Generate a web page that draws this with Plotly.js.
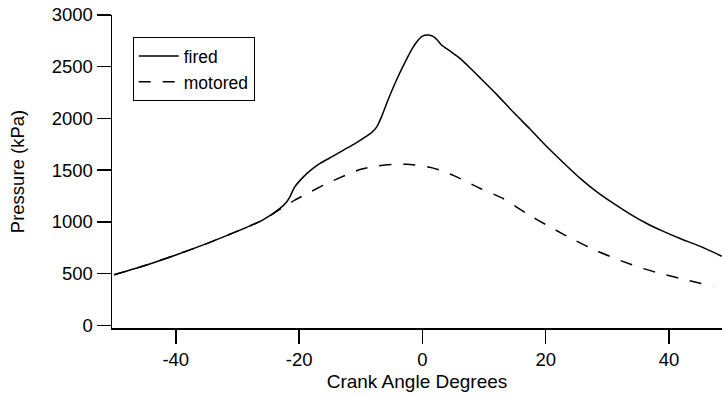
<!DOCTYPE html>
<html>
<head>
<meta charset="utf-8">
<script src="https://cdn.plot.ly/plotly-3.0.1.min.js"></script>
<style>html,body{margin:0;padding:0;background:#fff;}#chart{width:722px;height:398px;}</style>
</head>
<body>
<div id="chart"></div>
<script>
const firedAngle = [-50, -45, -40, -35, -30, -26, -23, -22, -21.5, -20.7, -19.3, -18, -16.6, -14.5, -12.8, -11, -9.6, -8.3, -7.4, -6.6, -5.8, -4.2, -2.5, -1.5, -0.9, 0, 1, 1.8, 2.3, 3.1, 4.5, 6.1, 7.7, 9.4, 12, 14.7, 17.5, 20.2, 23, 25.6, 28.3, 31, 33.7, 36.4, 39, 41.8, 45, 48.6];
const firedPressure = [488, 578, 680, 790, 910, 1015, 1135, 1195, 1242, 1338, 1435, 1505, 1565, 1635, 1694, 1755, 1807, 1860, 1919, 2020, 2145, 2371, 2581, 2690, 2742, 2795, 2806, 2790, 2765, 2710, 2650, 2581, 2490, 2390, 2235, 2064, 1895, 1726, 1565, 1420, 1290, 1178, 1075, 984, 910, 839, 765, 668];
const motoredAngle = [-50, -45, -40, -35, -30, -26, -23, -20.7, -18, -15.5, -12.5, -10.1, -7.5, -4.7, -2.5, -0.9, 1, 2.9, 5, 7.2, 9.3, 13.1, 16.9, 20.7, 24.5, 28.3, 32, 35.8, 39.1, 43, 47.2];
const motoredPressure = [488, 578, 680, 790, 910, 1015, 1125, 1210, 1295, 1371, 1450, 1507, 1540, 1555, 1558, 1548, 1530, 1500, 1450, 1387, 1325, 1226, 1081, 951, 829, 719, 629, 549, 494, 435, 377];
const xTicks = [-40, -20, 0, 20, 40];
const yTicks = [0, 500, 1000, 1500, 2000, 2500, 3000];

const FONT = 'Liberation Sans, Arial, sans-serif';
const traces = [
  {x: firedAngle, y: firedPressure, type: 'scatter', mode: 'lines', name: 'fired',
   line: {color: '#000', width: 1.5, shape: 'spline', smoothing: 0.6}},
  {x: motoredAngle, y: motoredPressure, type: 'scatter', mode: 'lines', name: 'motored',
   line: {color: '#000', width: 1.5, dash: '12px,12px', shape: 'spline', smoothing: 0.6}}
];
const layout = {
  width: 722, height: 398,
  margin: {l: 112, r: 0, t: 15, b: 70},
  paper_bgcolor: '#fff', plot_bgcolor: '#fff',
  font: {family: FONT, size: 18.5, color: '#000'},
  showlegend: true,
  legend: {x: 0.034, y: 0.929, xanchor: 'left', yanchor: 'top',
    bgcolor: '#fff', bordercolor: '#000', borderwidth: 1, itemwidth: 40,
    font: {family: FONT, size: 17.5, color: '#000'}, tracegroupgap: 0},
  xaxis: {range: [-50.35, 48.6], tickvals: xTicks, ticktext: xTicks.map(String),
    showgrid: false, zeroline: false, showline: true, linecolor: '#000', linewidth: 1.5,
    ticks: 'outside', ticklen: 14, tickwidth: 1.5, tickcolor: '#000',
    tickfont: {family: FONT, size: 18.5, color: '#000'},
    title: {text: 'Crank Angle Degrees', font: {family: FONT, size: 19, color: '#000'}, standoff: 6}},
  yaxis: {range: [-26, 3000], tickvals: yTicks, ticktext: yTicks.map(String),
    showgrid: false, zeroline: false, showline: true, linecolor: '#000', linewidth: 1.5,
    ticks: 'outside', ticklen: 14, tickwidth: 1.5, tickcolor: '#000',
    tickfont: {family: FONT, size: 18.5, color: '#000'},
    title: {text: 'Pressure (kPa)', font: {family: FONT, size: 18.5, color: '#000'}, standoff: 22}}
};
Plotly.newPlot('chart', traces, layout, {staticPlot: true, displayModeBar: false});
</script>
</body>
</html>
